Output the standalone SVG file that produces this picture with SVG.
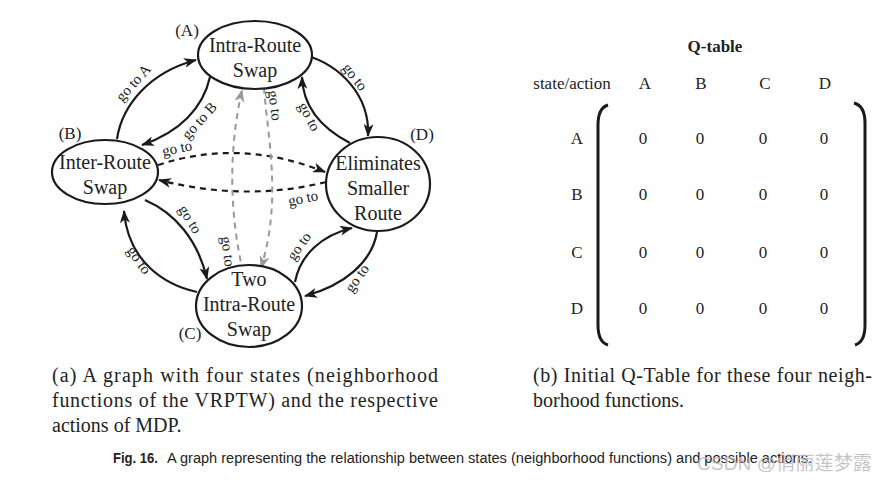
<svg xmlns="http://www.w3.org/2000/svg" width="887" height="481" viewBox="0 0 887 481">
<defs>
<marker id="ah" markerUnits="userSpaceOnUse" markerWidth="14" markerHeight="10" refX="12" refY="5" orient="auto">
<path d="M0,0 L13,5 L0,10 L3.5,5 z" fill="#1a1a1a"/>
</marker>
<marker id="ahg" markerUnits="userSpaceOnUse" markerWidth="14" markerHeight="10" refX="12" refY="5" orient="auto">
<path d="M0,0 L13,5 L0,10 L3.5,5 z" fill="#999"/>
</marker>
<style>
.node{fill:#fff;stroke:#1a1a1a;stroke-width:2.2}
.nt{font-family:"Liberation Serif","Times New Roman",serif;font-size:20px;fill:#222;text-anchor:middle}
.lab{font-family:"Liberation Serif","Times New Roman",serif;font-size:17px;fill:#222;text-anchor:middle}
.e{fill:none;stroke:#1a1a1a;stroke-width:2.2;marker-end:url(#ah)}
.ed{fill:none;stroke:#1a1a1a;stroke-width:2.2;stroke-dasharray:6 5;marker-end:url(#ah)}
.eg{fill:none;stroke:#999;stroke-width:2;stroke-dasharray:6 5;marker-end:url(#ahg)}
.el{font-family:"Liberation Serif","Times New Roman",serif;font-size:15px;fill:#222;text-anchor:middle}
.q{font-family:"Liberation Serif","Times New Roman",serif;font-size:17px;fill:#222;text-anchor:middle}
.cap{font-family:"Liberation Serif","Times New Roman",serif;font-size:20px;fill:#222}
.fig{font-family:"Liberation Sans",Arial,sans-serif;font-size:14px;fill:#222}
</style>
</defs>
<rect width="887" height="481" fill="#fff"/>

<g id="connectors">
<path class="e" d="M117,139 C122,105 150,72 196,60"/>
<path class="e" d="M210,77 C203,108 180,132 142,145"/>
<path class="e" d="M305,55 C340,65 370,95 368,136"/>
<path class="e" d="M350,143 C325,130 303,110 302,77"/>
<path class="e" d="M145,200 C175,213 198,240 207,279"/>
<path class="e" d="M197,292 C165,285 128,262 124,211"/>
<path class="e" d="M295,282 C300,255 322,235 352,228"/>
<path class="e" d="M377,232 C372,262 345,285 305,296"/>
<path class="ed" d="M158,165 Q240,138 325,172"/>
<path class="ed" d="M326,182 Q245,202 159,180"/>
<path class="eg" d="M243,272 Q222,180 242,90"/>
<path class="eg" d="M264,88 C268,140 282,200 261,268"/>
<text class="el" transform="translate(137,86) rotate(-48)">go to A</text>
<text class="el" transform="translate(203,124) rotate(-48)">go to B</text>
<text class="el" transform="translate(351,80) rotate(52)">go to</text>
<text class="el" transform="translate(305,119) rotate(62)">go to</text>
<text class="el" transform="translate(186,222) rotate(58)">go to</text>
<text class="el" transform="translate(135,263) rotate(55)">go to</text>
<text class="el" transform="translate(303,249) rotate(-55)">go to</text>
<text class="el" transform="translate(361,281) rotate(-55)">go to</text>
<text class="el" transform="translate(178,153) rotate(-12)">go to</text>
<text class="el" transform="translate(304,203) rotate(-12)">go to</text>
<text class="el" transform="translate(270,106) rotate(82)">go to</text>
<text class="el" transform="translate(223,252) rotate(82)">go to</text>
</g>

<g id="nodeA">
<ellipse class="node" cx="255" cy="55" rx="57" ry="34"/>
<text class="nt" x="255" y="52">Intra-Route</text>
<text class="nt" x="255" y="77">Swap</text>
<text class="lab" x="187" y="36">(A)</text>
</g>
<g id="nodeB">
<ellipse class="node" cx="105" cy="172" rx="53" ry="32"/>
<text class="nt" x="105" y="169">Inter-Route</text>
<text class="nt" x="105" y="194">Swap</text>
<text class="lab" x="70" y="139">(B)</text>
</g>
<g id="nodeD">
<ellipse class="node" cx="378" cy="184" rx="52" ry="47"/>
<text class="nt" x="378" y="170">Eliminates</text>
<text class="nt" x="378" y="195">Smaller</text>
<text class="nt" x="378" y="220">Route</text>
<text class="lab" x="422" y="140">(D)</text>
</g>
<g id="nodeC">
<ellipse class="node" cx="249" cy="306" rx="53" ry="41"/>
<text class="nt" x="249" y="286">Two</text>
<text class="nt" x="249" y="311">Intra-Route</text>
<text class="nt" x="249" y="336">Swap</text>
<text class="lab" x="190" y="339">(C)</text>
</g>

<g id="qtable">
<text class="q" x="715" y="52" font-weight="bold">Q-table</text>
<text class="q" x="572" y="89">state/action</text>
<text class="q" x="645" y="89">A</text>
<text class="q" x="701" y="89">B</text>
<text class="q" x="765" y="89">C</text>
<text class="q" x="825" y="89">D</text>
<text class="q" x="577" y="144">A</text>
<text class="q" x="577" y="200">B</text>
<text class="q" x="577" y="258">C</text>
<text class="q" x="577" y="314">D</text>
<g class="q">
<text x="643" y="144">0</text><text x="700" y="144">0</text><text x="763" y="144">0</text><text x="824" y="144">0</text>
<text x="643" y="200">0</text><text x="700" y="200">0</text><text x="763" y="200">0</text><text x="824" y="200">0</text>
<text x="643" y="258">0</text><text x="700" y="258">0</text><text x="763" y="258">0</text><text x="824" y="258">0</text>
<text x="643" y="314">0</text><text x="700" y="314">0</text><text x="763" y="314">0</text><text x="824" y="314">0</text>
</g>
<path d="M608,105 Q598,108 598,125 L598,325 Q598,342 608,345" fill="none" stroke="#1a1a1a" stroke-width="3"/>
<path d="M854,103 Q865,106 865,123 L865,325 Q865,342 855,345" fill="none" stroke="#1a1a1a" stroke-width="3"/>
</g>

<g id="captions">
<text class="cap" x="52" y="382" textLength="386" lengthAdjust="spacing">(a) A graph with four states (neighborhood</text>
<text class="cap" x="52" y="407" textLength="386" lengthAdjust="spacing">functions of the VRPTW) and the respective</text>
<text class="cap" x="52" y="432">actions of MDP.</text>
<text class="cap" x="533" y="382" textLength="339" lengthAdjust="spacing">(b) Initial Q-Table for these four neigh-</text>
<text class="cap" x="533" y="407">borhood functions.</text>
<text class="fig" x="113" y="463" font-weight="bold" textLength="45" lengthAdjust="spacingAndGlyphs">Fig. 16.</text>
<text class="fig" x="167" y="463" textLength="645" lengthAdjust="spacingAndGlyphs">A graph representing the relationship between states (neighborhood functions) and possible actions.</text>
<text x="697" y="470" font-family="'Liberation Sans','Noto Sans CJK SC',sans-serif" font-size="19" fill="#bbb" fill-opacity="0.85" textLength="175" lengthAdjust="spacingAndGlyphs">CSDN @俏丽莲梦露</text>
</g>
</svg>
